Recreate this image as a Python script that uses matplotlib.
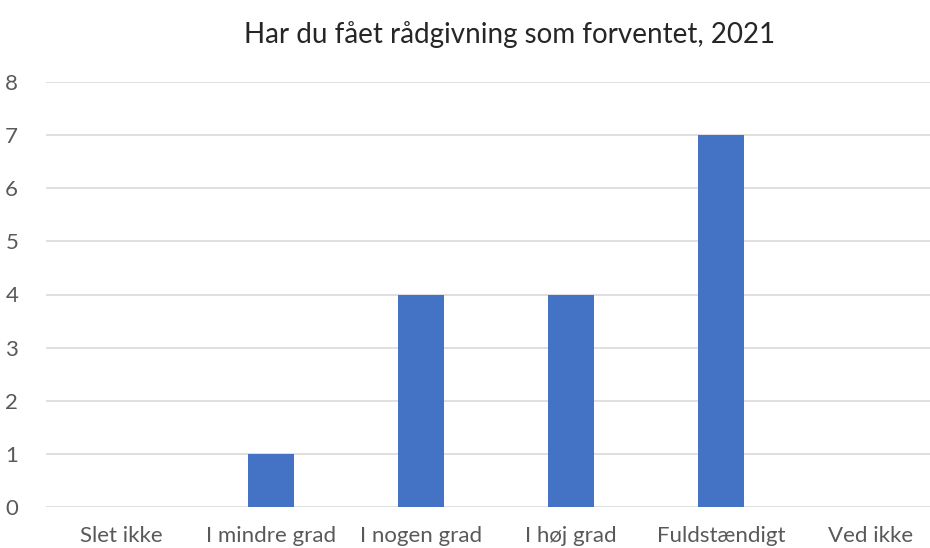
import matplotlib
matplotlib.use('Agg')
import matplotlib.pyplot as plt

categories = ['Slet ikke', 'I mindre grad', 'I nogen grad', 'I høj grad', 'Fuldstændigt', 'Ved ikke']
values = [0, 1, 4, 4, 7, 0]
yticks = [0, 1, 2, 3, 4, 5, 6, 7, 8]

plt.rcParams['font.family'] = ['Lato', 'DejaVu Sans']

fig = plt.figure(figsize=(9.30, 5.48), dpi=100)
# axes runs a bit past the right edge, as in the cropped original
ax = fig.add_axes([46 / 930, 41 / 548, 900 / 930, 425 / 548])

ax.bar(range(len(categories)), values, width=0.31, color='#4472C4', zorder=3)

ax.set_xlim(-0.5, 5.5)
ax.set_ylim(0, 8)
ax.set_yticks(yticks)
ax.set_xticks(range(len(categories)))
ax.set_xticklabels(categories)
ax.grid(axis='y', color='#d9d9d9', linewidth=1.2, zorder=0)
for s in ax.spines.values():
    s.set_visible(False)
ax.tick_params(axis='both', length=0, colors='#595959', labelsize=16)
ax.tick_params(axis='x', pad=14)
ax.tick_params(axis='y', pad=20)

fig.text(510 / 930, 1 - 35 / 548, 'Har du fået rådgivning som forventet, 2021',
         ha='center', va='center', fontsize=20, color='#262626')

fig.savefig('out.png', dpi=100)
